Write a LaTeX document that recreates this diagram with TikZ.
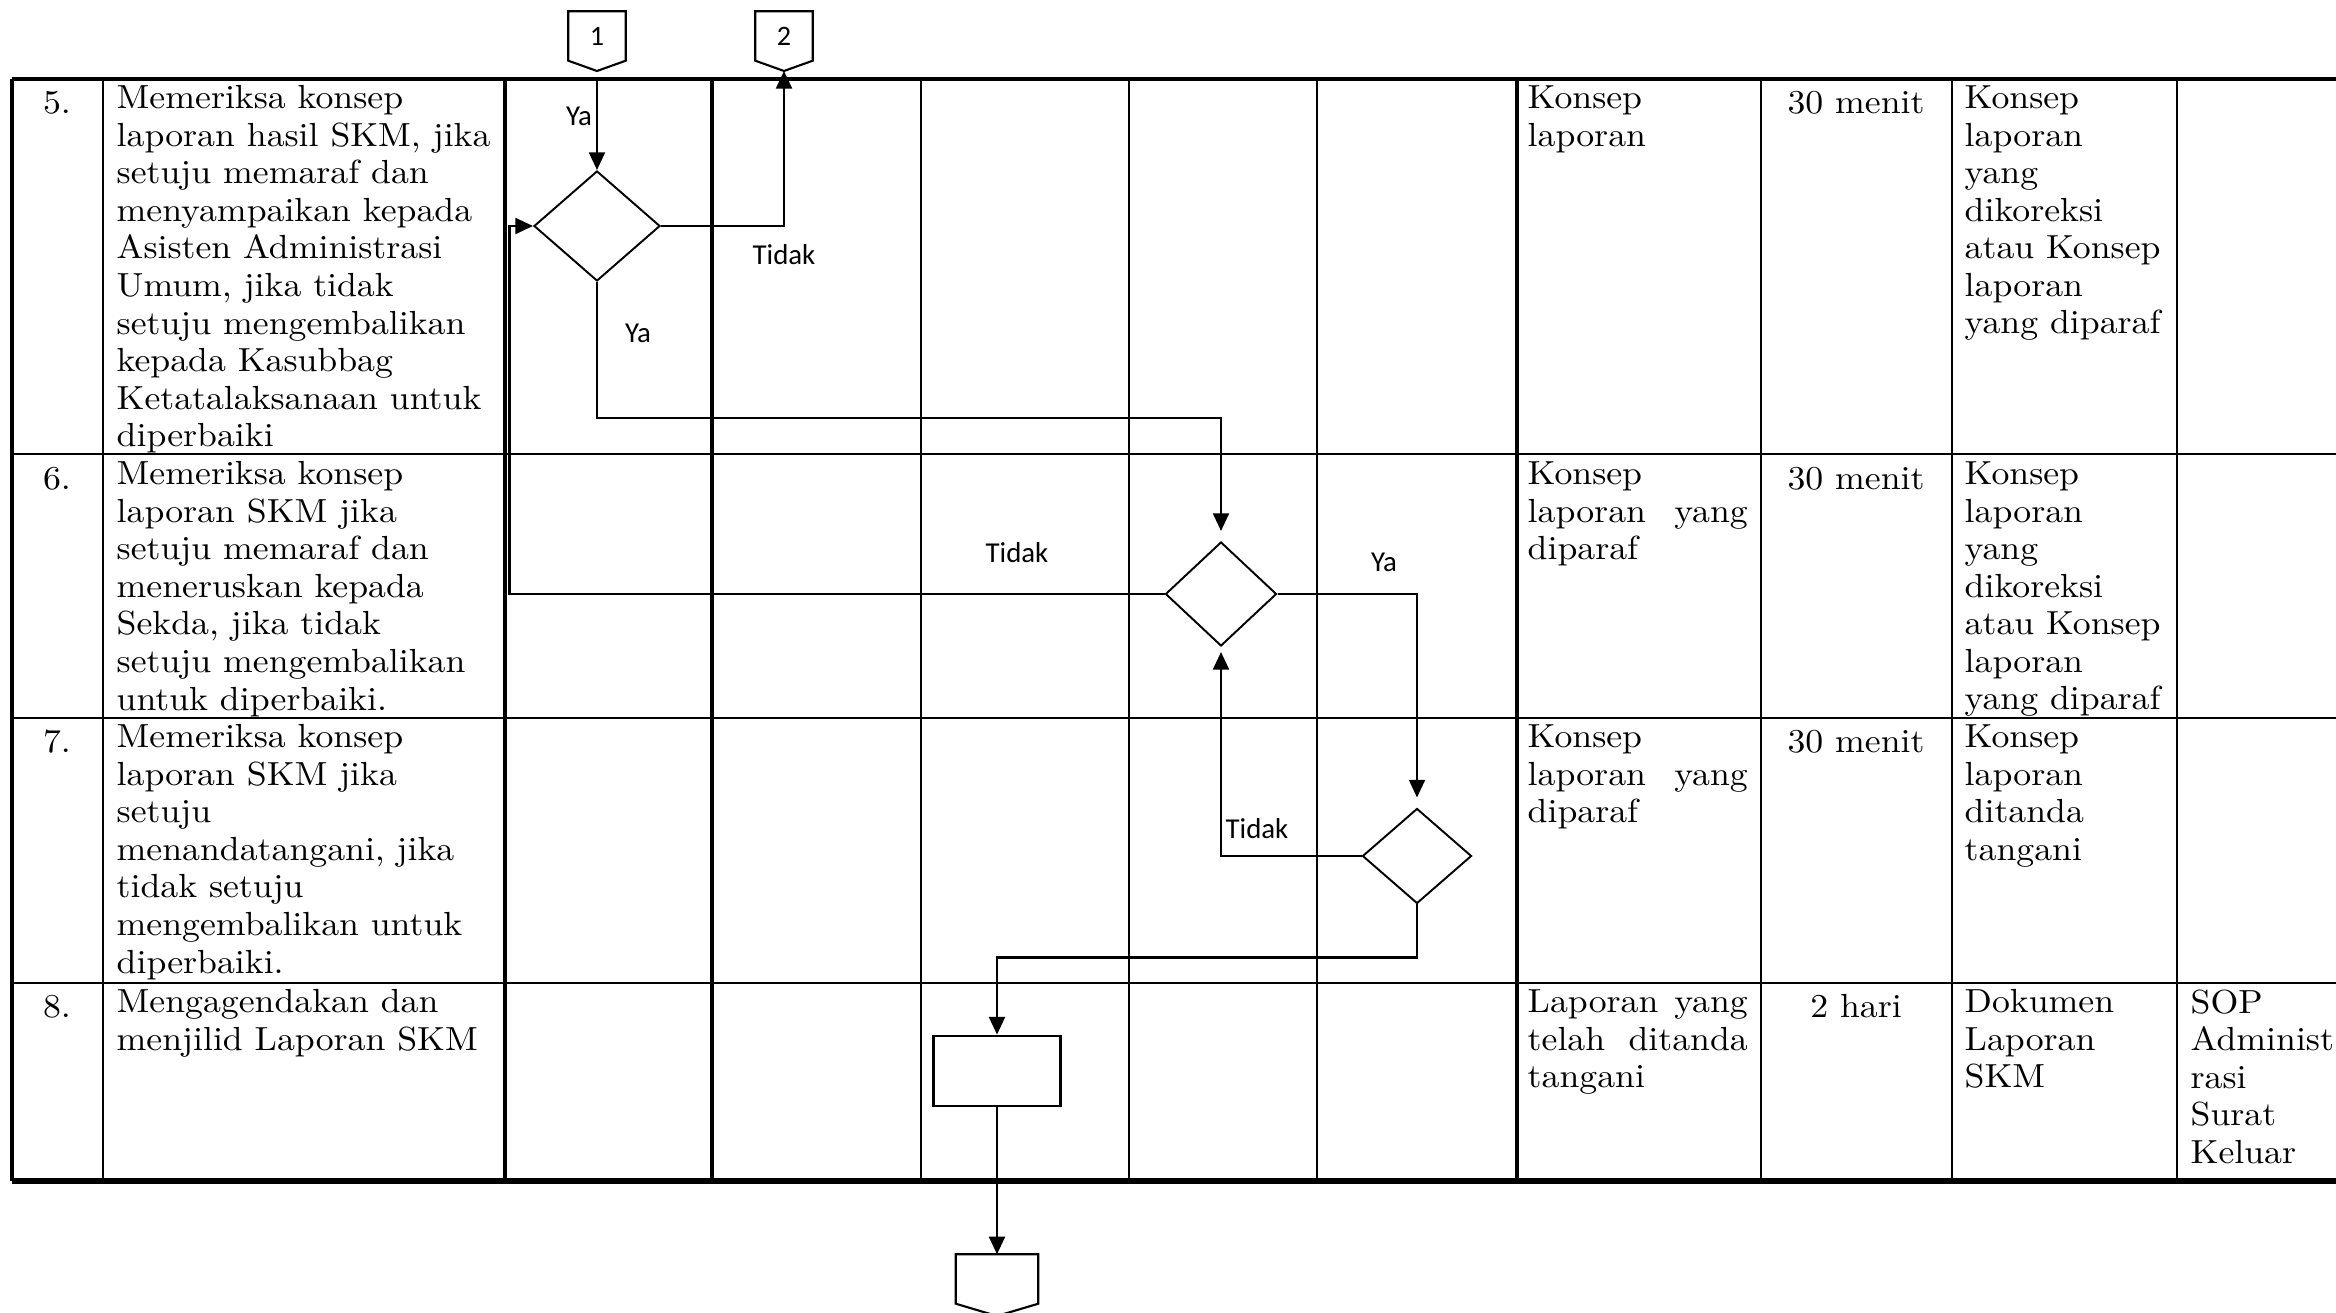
\documentclass[tikz,border=0pt]{standalone}
\usepackage{fontspec}
\setmainfont{lmroman10-regular.otf}[FakeStretch=1.07]
\newfontfamily\lblfont{Carlito}
\usetikzlibrary{arrows.meta,shapes.geometric,calc}
\tikzset{
  cellfont/.style={font=\fontsize{9.5}{10.67}\selectfont},
  cell/.style={cellfont, anchor=north west, inner sep=0pt, align=left, execute at begin node={\rule{0pt}{2.8mm}}},
  ccell/.style={cellfont, anchor=north, inner sep=0pt, align=center, execute at begin node={\rule{0pt}{2.8mm}}},
  lbl/.style={font=\lblfont\fontsize{8.2}{9.8}\selectfont, inner sep=0pt},
  dec/.style={diamond, draw, line width=0.55pt, inner sep=0pt},
  flow/.style={line width=0.7pt},
  arr/.style={flow, -{Triangle[length=5pt,width=4.5pt]}},
  conn/.style={inner sep=0pt, minimum width=0.56cm, minimum height=0.48cm, font=\lblfont\fontsize{8}{9.6}\selectfont},
  connline/.style={line width=0.6pt},
  gthick/.style={line width=1.1pt},
  gthin/.style={line width=0.6pt},
  rowline/.style={line width=0.85pt},
}
\newcommand{\jl}[1]{\makebox[2.2cm][s]{#1}}
\begin{document}
\begin{tikzpicture}[x=0.01cm,y=-0.01cm]
\useasboundingbox (0,0) rectangle (2336,1313);
% ---------- table grid ----------
\draw[gthick] (12,79) -- (2336,79);
\draw[rowline] (12,454) -- (2336,454);
\draw[rowline] (12,718) -- (2336,718);
\draw[rowline] (12,983) -- (2336,983);
\draw[line width=1.5pt] (12,1181) -- (2336,1181);
\draw[line width=1.0pt] (12,79) -- (12,1181);
\draw[rowline] (103,79) -- (103,1181);
\draw[gthick] (505,79) -- (505,1181);
\draw[gthick] (712,79) -- (712,1181);
\draw[gthin] (921,79) -- (921,1181);
\draw[gthin] (1129,79) -- (1129,1181);
\draw[gthin] (1317,79) -- (1317,1181);
\draw[gthick] (1517,79) -- (1517,1181);
\draw[line width=0.65pt] (1761,79) -- (1761,1181);
\draw[line width=0.65pt] (1952,79) -- (1952,1181);
\draw[line width=0.65pt] (2177,79) -- (2177,1181);
% ---------- row 5 ----------
\node[ccell] (n5) at (57,85) {5.};
\node[cell] (a5) at (116,85) {Memeriksa konsep\\laporan hasil SKM, jika\\setuju memaraf dan\\menyampaikan kepada\\Asisten Administrasi\\Umum, jika tidak\\setuju mengembalikan\\kepada Kasubbag\\Ketatalaksanaan untuk\\diperbaiki};
\node[cell] (i5) at (1527,85) {Konsep\\laporan};
\node[ccell] (w5) at (1856,85) {30 menit};
\node[cell] (o5) at (1964,85) {Konsep\\laporan\\yang\\dikoreksi\\atau Konsep\\laporan\\yang diparaf};
% ---------- row 6 ----------
\node[ccell] (n6) at (57,461) {6.};
\node[cell] (a6) at (116,461) {Memeriksa konsep\\laporan SKM jika\\setuju memaraf dan\\meneruskan kepada\\Sekda, jika tidak\\setuju mengembalikan\\untuk diperbaiki.};
\node[cell] (i6) at (1527,461) {Konsep\\\jl{laporan yang}\\diparaf};
\node[ccell] (w6) at (1856,461) {30 menit};
\node[cell] (o6) at (1964,461) {Konsep\\laporan\\yang\\dikoreksi\\atau Konsep\\laporan\\yang diparaf};
% ---------- row 7 ----------
\node[ccell] (n7) at (57,724) {7.};
\node[cell] (a7) at (116,724) {Memeriksa konsep\\laporan SKM jika\\setuju\\menandatangani, jika\\tidak setuju\\mengembalikan untuk\\diperbaiki.};
\node[cell] (i7) at (1527,724) {Konsep\\\jl{laporan yang}\\diparaf};
\node[ccell] (w7) at (1856,724) {30 menit};
\node[cell] (o7) at (1964,724) {Konsep\\laporan\\ditanda\\tangani};
% ---------- row 8 ----------
\node[ccell] (n8) at (57,989) {8.};
\node[cell] (a8) at (116,989) {Mengagendakan dan\\menjilid Laporan SKM};
\node[cell] (i8) at (1527,989) {\jl{Laporan yang}\\\jl{telah ditanda}\\tangani};
\node[ccell] (w8) at (1856,989) {2 hari};
\node[cell] (o8) at (1964,989) {Dokumen\\Laporan\\SKM};
\node[cell] (r8) at (2190,989) {SOP\\Administ\\rasi\\Surat\\Keluar};
% ---------- flow shapes ----------
\node[conn] (c1) at (597,36) {1};
\coordinate (c1p) at (597,71);
\draw[connline] (c1.north west) -- (c1.south west) -- (c1p) -- (c1.south east) -- (c1.north east) -- cycle;
\node[conn] (c2) at (784,36) {2};
\coordinate (c2p) at (784,71);
\draw[connline] (c2.north west) -- (c2.south west) -- (c2p) -- (c2.south east) -- (c2.north east) -- cycle;
\node[conn, minimum width=0.81cm] (cb) at (997,1279) {};
\coordinate (cbp) at (997,1316);
\draw[connline] (cb.north west) -- (cb.south west) -- (cbp) -- (cb.south east) -- (cb.north east) -- cycle;

\node[dec, minimum width=1.26cm, minimum height=1.10cm] (d1) at (597,226) {};
\node[dec, minimum width=1.11cm, minimum height=1.04cm] (d2) at (1221,594) {};
\node[dec, minimum width=1.09cm, minimum height=0.95cm] (d3) at (1417,856) {};
\node[draw, line width=0.8pt, inner sep=0pt, minimum width=1.27cm, minimum height=0.70cm] (bx) at (997,1071) {};
% ---------- connectors ----------
\draw[arr, shorten <=0.8mm] (c1p) -- (d1.north);
\draw[arr] (d1.east) -| (c2p);
\draw[arr, shorten >=1mm] (d1.south) -- ++(0,136) -| (d2.north);
\draw[arr] (d2.west) -- ++(-655,0) |- (d1.west);
\draw[arr, shorten >=1mm] (d2.east) -| (d3.north);
\draw[arr, shorten >=0.5mm] (d3.west) -| (d2.south);
\draw[arr] (d3.south) -- ++(0,53) -| (bx.north);
\draw[arr] (bx.south) -- (cb.north);
% ---------- labels ----------
\node[lbl] (ya1) at (579,116) {Ya};
\node[lbl] (td1) at (784,255) {Tidak};
\node[lbl] (ya2) at (638,333) {Ya};
\node[lbl] (td2) at (1017,553) {Tidak};
\node[lbl] (ya3) at (1384,562) {Ya};
\node[lbl] (td3) at (1257,829) {Tidak};
\end{tikzpicture}
\end{document}
